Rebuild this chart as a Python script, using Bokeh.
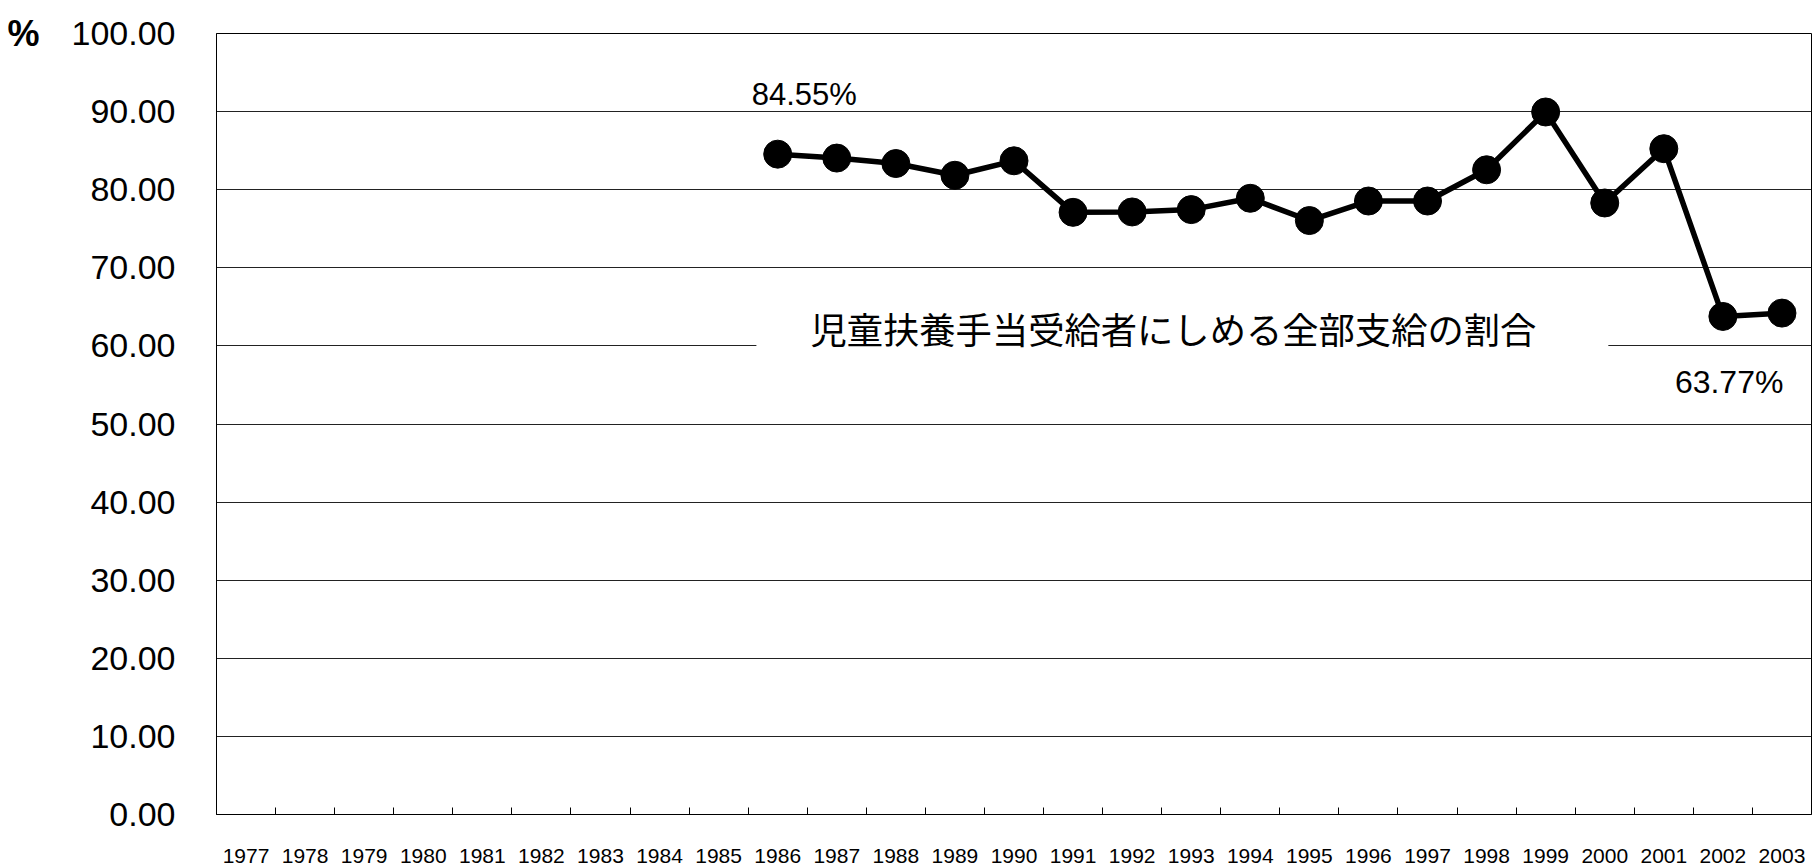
from bokeh.plotting import figure
from bokeh.models import (Range1d, FixedTicker, NumeralTickFormatter, Label,
                          ColumnDataSource, LinearAxis)
from bokeh.embed import file_html
from bokeh.resources import INLINE

# ---- data ----
years = [1977, 1978, 1979, 1980, 1981, 1982, 1983, 1984, 1985, 1986,
         1987, 1988, 1989, 1990, 1991, 1992, 1993, 1994, 1995, 1996,
         1997, 1998, 1999, 2000, 2001, 2002, 2003]
data_years = [1986, 1987, 1988, 1989, 1990, 1991, 1992, 1993, 1994,
              1995, 1996, 1997, 1998, 1999, 2000, 2001, 2002, 2003]
share_full = [84.55, 84.05, 83.35, 81.85, 83.70, 77.10, 77.15, 77.45, 78.90,
              76.05, 78.55, 78.55, 82.55, 89.95, 78.30, 85.25, 63.77, 64.20]
y_ticks = [0, 10, 20, 30, 40, 50, 60, 70, 80, 90, 100]
series_title = "児童扶養手当受給者にしめる全部支給の割合"
unit_label = "%"

src = ColumnDataSource(dict(x=data_years, y=share_full))

p = figure(width=1820, height=867, output_backend="svg", toolbar_location=None,
           x_range=Range1d(years[0] - 0.5, years[-1] + 0.5),
           y_range=Range1d(0, 100),
           min_border_left=216, min_border_right=9, min_border_top=33, min_border_bottom=53)

p.background_fill_color = "white"
p.border_fill_color = "white"
p.outline_line_color = "black"
p.outline_line_width = 1

# grid
p.xgrid.visible = False
p.ygrid.grid_line_color = "#222222"
p.ygrid.grid_line_width = 1
p.ygrid.ticker = FixedTicker(ticks=y_ticks)

# y axis
p.yaxis.ticker = FixedTicker(ticks=y_ticks)
p.yaxis.formatter = NumeralTickFormatter(format="0.00")
p.yaxis.major_label_text_font = "Liberation Sans"
p.yaxis.major_label_text_font_size = "34px"
p.yaxis.major_label_text_color = "black"
p.yaxis.major_label_standoff = 41
p.yaxis.major_tick_in = 0
p.yaxis.major_tick_out = 0
p.yaxis.minor_tick_line_color = None
p.yaxis.axis_line_color = "black"

# unit marker "%" at the top-left, via an outer axis on a unit range
p.extra_y_ranges = {"unit": Range1d(0, 1)}
unit_axis = LinearAxis(y_range_name="unit", ticker=FixedTicker(ticks=[1]),
                       major_label_overrides={1: unit_label},
                       axis_line_color=None, major_tick_line_color=None,
                       minor_tick_line_color=None, major_label_standoff=23,
                       major_label_text_font="Liberation Sans",
                       major_label_text_font_size="36px",
                       major_label_text_font_style="bold",
                       major_label_text_color="black")
p.add_layout(unit_axis, "left")

# x axis
p.xaxis.ticker = FixedTicker(ticks=years, minor_ticks=[y + 0.5 for y in years[:-1]])
p.xaxis.major_label_text_font = "Liberation Sans"
p.xaxis.major_label_text_font_size = "21px"
p.xaxis.major_label_text_color = "black"
p.xaxis.major_label_text_line_height = 0.9
p.xaxis.major_label_standoff = 34
p.xaxis.major_tick_in = 0
p.xaxis.major_tick_out = 0
p.xaxis.minor_tick_in = 7
p.xaxis.minor_tick_out = 0
p.xaxis.minor_tick_line_color = "black"
p.xaxis.axis_line_color = "black"

# series
p.line("x", "y", source=src, line_color="black", line_width=5.5)
p.scatter("x", "y", source=src, size=28, fill_color="black", line_color="black")

# annotations
p.add_layout(Label(x=data_years[0], y=share_full[0], text=f"{share_full[0]:.2f}%",
                   x_offset=-26, y_offset=60, text_align="left", text_baseline="alphabetic",
                   text_font="Liberation Sans", text_font_size="31px", text_color="black"))
p.add_layout(Label(x=data_years[-2], y=share_full[-2], text=f"{share_full[-2]:.2f}%",
                   x_offset=-48, y_offset=-66, text_align="left", text_baseline="alphabetic",
                   text_font="Liberation Sans", text_font_size="32px", text_color="black"))
p.add_layout(Label(x=1992.85, y=62.27, text=series_title,
                   text_align="center", text_baseline="middle",
                   text_font="Noto Sans CJK JP", text_font_size="36.3px", text_color="black",
                   background_fill_color="white",
                   padding=dict(left=54, right=72, top=10, bottom=10)))

open("out.html", "w").write(file_html(p, INLINE))
